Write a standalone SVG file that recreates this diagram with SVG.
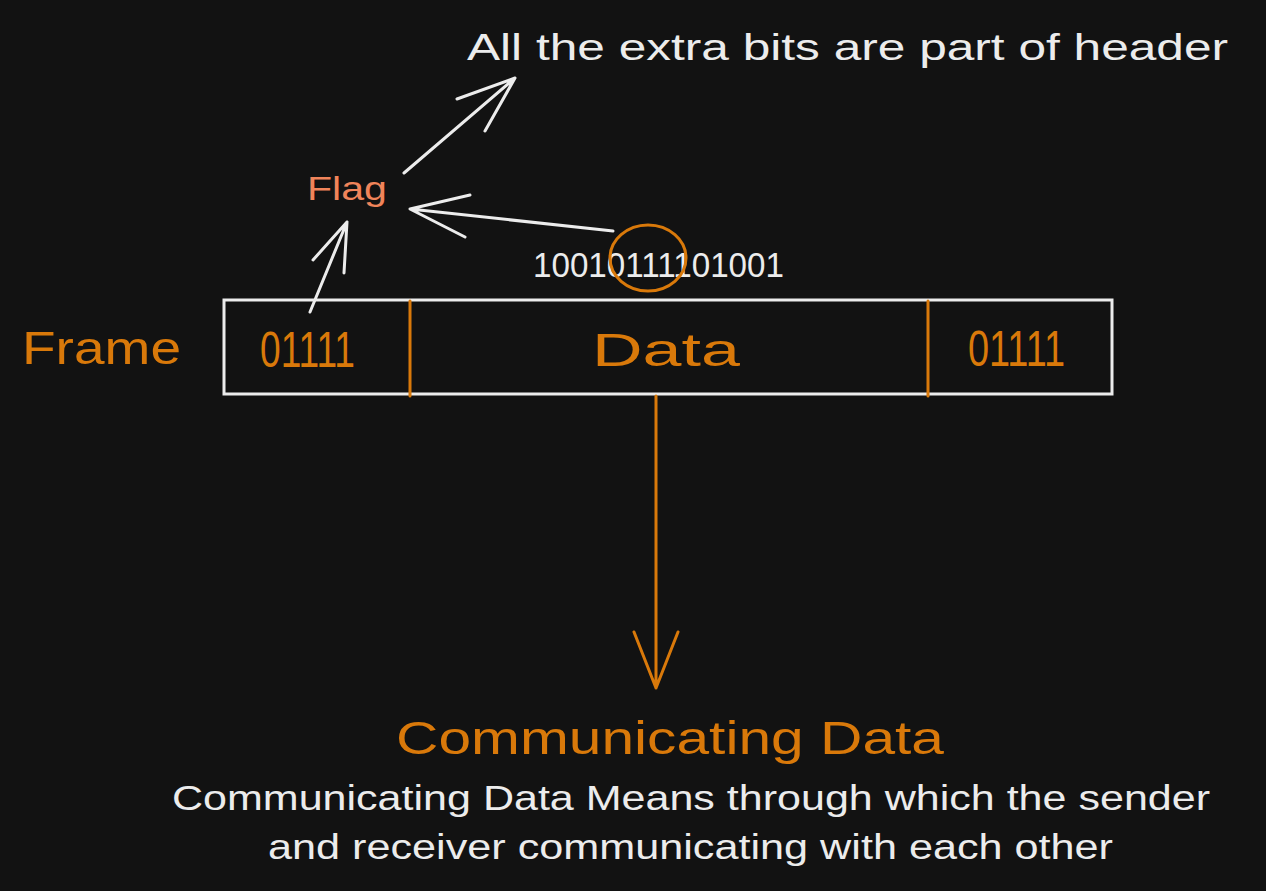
<svg xmlns="http://www.w3.org/2000/svg" width="1266" height="891" viewBox="0 0 1266 891">
  <style>
    .t { font-family: "Liberation Sans", "DejaVu Sans", sans-serif; }
    .w { fill: #ececec; }
    .o { fill: #d9790a; }
    .f { fill: #f0845a; }
    .ln { fill: none; stroke: #ececec; stroke-width: 3; stroke-linecap: round; stroke-linejoin: round; }
    .lo { fill: none; stroke: #d9790a; stroke-width: 3; stroke-linecap: round; }
  </style>
  <rect width="1266" height="891" fill="#121212"/>

  <g id="header-note">
    <text class="t w" x="467" y="60" font-size="36" textLength="761" lengthAdjust="spacingAndGlyphs">All the extra bits are part of header</text>
  </g>

  <g id="flag">
    <text class="t f" x="307" y="200" font-size="33" textLength="80" lengthAdjust="spacingAndGlyphs">Flag</text>
  </g>

  <g id="bits">
    <text class="t w" x="533" y="277" font-size="35" textLength="251" lengthAdjust="spacingAndGlyphs">10010111101001</text>
    <ellipse cx="648" cy="258" rx="38" ry="33" class="lo"/>
  </g>

  <g id="frame-label">
    <text class="t o" x="22" y="364" font-size="46" textLength="159" lengthAdjust="spacingAndGlyphs">Frame</text>
  </g>

  <g id="frame">
    <rect x="224" y="300" width="888" height="94" fill="none" stroke="#ececec" stroke-width="3"/>
    <line x1="410" y1="301" x2="410" y2="396" class="lo"/>
    <line x1="928" y1="301" x2="928" y2="396" class="lo"/>
    <text class="t o" x="260" y="367" font-size="50" textLength="95" lengthAdjust="spacingAndGlyphs">01111</text>
    <text class="t o" x="592" y="366" font-size="46" textLength="148" lengthAdjust="spacingAndGlyphs">Data</text>
    <text class="t o" x="968" y="366" font-size="50" textLength="97" lengthAdjust="spacingAndGlyphs">01111</text>
  </g>

  <g id="connectors">
    <path class="ln" d="M404 173 L515 78 M457 99 L515 78 L485 131"/>
    <path class="ln" d="M613 231 L410 209 M470 195 L410 209 L465 237"/>
    <path class="ln" d="M310 312 L347 222 M313 260 L347 222 L344 273"/>
    <path class="lo" d="M656 396 L656 688 M634 632 L656 688 L678 632" stroke-linejoin="round"/>
  </g>

  <g id="communicating-data">
    <text class="t o" x="396" y="754" font-size="46" textLength="548" lengthAdjust="spacingAndGlyphs">Communicating Data</text>
    <text class="t w" x="172" y="810" font-size="35" textLength="1038" lengthAdjust="spacingAndGlyphs">Communicating Data Means through which the sender</text>
    <text class="t w" x="268" y="859" font-size="35" textLength="845" lengthAdjust="spacingAndGlyphs">and receiver communicating with each other</text>
  </g>
</svg>
